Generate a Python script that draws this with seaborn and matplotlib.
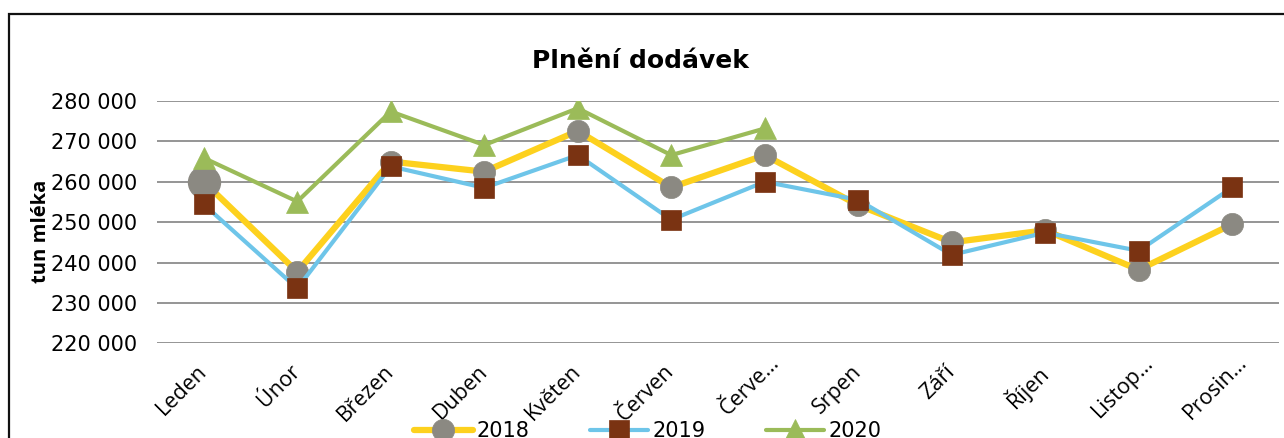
import matplotlib
matplotlib.use("Agg")
import matplotlib.pyplot as plt
import seaborn as sns
from matplotlib.ticker import FuncFormatter
from matplotlib.patches import Rectangle
from matplotlib.transforms import ScaledTranslation

months = ["Leden", "Únor", "Březen", "Duben", "Květen", "Červen",
          "Červe…", "Srpen", "Září", "Říjen", "Listop…", "Prosin…"]
years = ["2018", "2019", "2020"]
v2018 = [260000, 237700, 265000, 262500, 272600, 258600,
         266600, 254200, 245000, 248000, 238200, 249500]
v2019 = [254400, 233600, 263800, 258500, 266600, 250600,
         260000, 255500, 241900, 247400, 242900, 258600]
v2020 = [265900, 255100, 277400, 269100, 278200, 266600, 273200]
yticks = [220000, 230000, 240000, 250000, 260000, 270000, 280000]

sns.set_style("white")
plt.rcParams["font.family"] = ["DejaVu Sans"]
plt.rcParams["text.color"] = "black"
plt.rcParams["xtick.color"] = "black"
plt.rcParams["ytick.color"] = "black"

W, H = 1284, 438
fig = plt.figure(figsize=(W / 100, H / 100), dpi=100)
ax = fig.add_axes([157 / W, 1 - 343.3 / H, (1279 - 157) / W, (343.3 - 101) / H])

styles = [
    dict(color="#FDD11E", lw=4.5, marker="o", ms=16, mfc="#8B8982", mec="#8B8982"),
    dict(color="#6EC5E9", lw=3.0, marker="s", ms=14.5, mfc="#7A3312", mec="#7A3312"),
    dict(color="#9BBB59", lw=3.0, marker="^", ms=15.5, mfc="#9BBB59", mec="#9BBB59"),
]
series = [v2018, v2019, v2020]
handles = []
for yr, vals, st in zip(years, series, styles):
    sns.lineplot(x=months[:len(vals)], y=vals, sort=False, ax=ax,
                 color=st["color"], linewidth=st["lw"], marker=st["marker"],
                 markersize=st["ms"], markerfacecolor=st["mfc"],
                 markeredgecolor=st["mec"], markeredgewidth=0.5, label=yr)
    handles.append(ax.get_lines()[-1])
    if yr == "2018":
        # first point of 2018 is drawn larger in the original
        ax.plot([months[0]], [vals[0]], marker="o", ms=23, color=st["mfc"], lw=0)

if ax.get_legend() is not None:
    ax.get_legend().remove()

ax.set_xlim(-0.5, 11.5)
ax.set_ylim(220000, 280000)
ax.set_yticks(yticks)
ax.yaxis.set_major_formatter(FuncFormatter(lambda v, p: f"{v:,.0f}".replace(",", " ")))
ax.grid(axis="y", color="#8C8C8C", linewidth=1.3)
ax.set_axisbelow(True)
for s in ax.spines.values():
    s.set_visible(False)
ax.tick_params(axis="y", length=0, pad=14.5, labelsize=15)
ax.tick_params(axis="x", length=0, pad=18)
ax.set_xlabel("")
ax.set_ylabel("")
ax.set_xticks(range(len(months)))
ax.set_xticklabels(months, rotation=45, ha="right", va="center",
                   rotation_mode="anchor", fontsize=15.5, family="Open Sans")
# truncated labels stick out a bit past their tick, like in Excel
for lbl in ax.get_xticklabels():
    if lbl.get_text().endswith("…"):
        lbl.set_transform(lbl.get_transform() + ScaledTranslation(0.12, 0.09, fig.dpi_scale_trans))

fig.text(640 / W, 1 - 67.5 / H, "Plnění dodávek", ha="center", va="baseline",
         fontsize=18, fontweight="bold")
fig.text(41 / W, 1 - 231 / H, "tun mléka", rotation=90, ha="center", va="center",
         fontsize=14.5, fontweight="bold", family="Open Sans")

fig.legend(handles=handles, labels=years, loc="center", ncol=3,
           bbox_to_anchor=(648 / W, 7 / H), frameon=False, fontsize=15,
           handlelength=2.8, handletextpad=0.2, columnspacing=2.9, borderpad=0)

fig.patches.append(Rectangle((9 / W, -0.1), 1.2, 1.1 - 14 / H, transform=fig.transFigure,
                             fill=False, edgecolor="#111111", lw=1.6, figure=fig))

fig.savefig("out.png", dpi=100)
